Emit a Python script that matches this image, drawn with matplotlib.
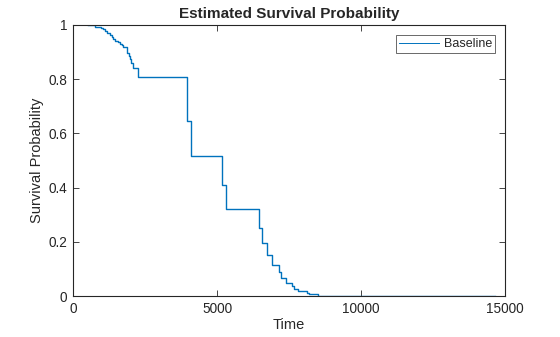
import matplotlib
matplotlib.use("Agg")
import matplotlib.pyplot as plt

# Data (post-step survival values)
times = [520, 763, 879, 971, 1052, 1110, 1168, 1284, 1342, 1400, 1457, 1573,
         1631, 1712, 1746, 1862, 1943, 1978, 2012, 2071, 2267, 3967, 4105,
         5182, 5320, 6465, 6570, 6720, 6917, 7160, 7230, 7380, 7610, 7658,
         7797, 8130, 8178, 8512, 14650]
survival = [1.0, 0.994, 0.991, 0.988, 0.984, 0.978, 0.969, 0.963, 0.955,
            0.948, 0.941, 0.936, 0.930, 0.926, 0.918, 0.896, 0.887, 0.873,
            0.859, 0.840, 0.807, 0.646, 0.516, 0.408, 0.321, 0.250, 0.194,
            0.150, 0.113, 0.087, 0.065, 0.047, 0.037, 0.027, 0.018, 0.010,
            0.006, 0.0, 0.0]
xticks = [0, 5000, 10000, 15000]
yticks = [0, 0.2, 0.4, 0.6, 0.8, 1]
ytick_labels = ["0", "0.2", "0.4", "0.6", "0.8", "1"]

plt.rcParams['font.family'] = ['Liberation Sans', 'DejaVu Sans']
txt = '#262626'

fig = plt.figure(figsize=(5.6, 3.37), dpi=100)
ax = fig.add_axes([73/560, 1-296/337, (505-73)/560, (296-25)/337])

ax.step(times, survival, where='post', color='#0072BD', lw=1.0, label='Baseline')

ax.set_xlim(0, 15000)
ax.set_ylim(0, 1)
ax.set_xticks(xticks)
ax.set_xticklabels([str(v) for v in xticks])
ax.set_yticks(yticks)
ax.set_yticklabels(ytick_labels)
ax.tick_params(direction='in', length=4, width=0.6, top=True, right=True,
               labelsize=9.8, colors=txt, pad=4)
for s in ax.spines.values():
    s.set_color(txt)
    s.set_linewidth(0.8)

ax.set_xlabel('Time', fontsize=10.5, color=txt, labelpad=2)
ax.set_ylabel('Survival Probability', fontsize=10.5, color=txt, labelpad=3)
ax.set_title('Estimated Survival Probability', fontsize=11, fontweight='bold',
             color=txt, pad=5)

leg = ax.legend(loc='upper right', fontsize=9, frameon=True, fancybox=False,
                borderaxespad=0.8, handlelength=3.2, borderpad=0.25,
                handletextpad=0.4)
leg.get_frame().set_edgecolor(txt)
leg.get_frame().set_linewidth(0.6)
leg.get_lines()[0].set_linewidth(0.7)
for t in leg.get_texts():
    t.set_color(txt)

fig.savefig('out.png', dpi=100)
